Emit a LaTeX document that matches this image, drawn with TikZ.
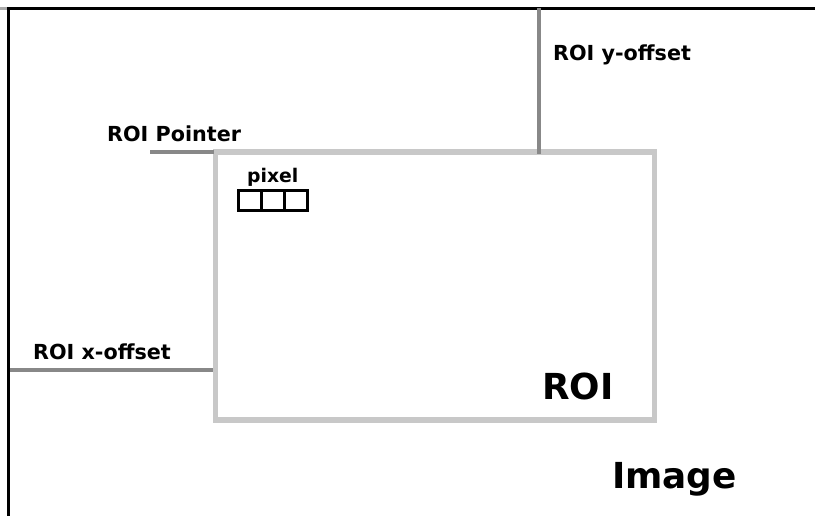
\documentclass[tikz,border=0pt]{standalone}
\usepackage{fontspec}
\setmainfont{DejaVu Sans}
\begin{document}
\begin{tikzpicture}[x=1pt,y=-1pt,
  lbl/.style={font=\bfseries\fontsize{20.7}{22}\selectfont, anchor=base west, inner sep=0pt},
  big/.style={font=\bfseries\fontsize{35.8}{38}\selectfont, anchor=base west, inner sep=0pt},
  frameline/.style={line width=3.3pt, black},
  offline/.style={line width=4pt, color={rgb,255:red,136;green,136;blue,136}},
  roibox/.style={draw={rgb,255:red,200;green,200;blue,200}, line width=5.5pt, minimum width=439pt, minimum height=268pt, inner sep=0pt},
  cell/.style={draw=black, line width=3pt, minimum width=23pt, minimum height=20pt, inner sep=0pt}]
\useasboundingbox (0,0) rectangle (815,516);
\fill[white] (0,0) rectangle (815,516);
% image frame
\coordinate (tl) at (8.7,8.3);
\coordinate (tr) at (815,8.3);
\coordinate (bl) at (8.7,516);
\coordinate (g0) at (0,8.3);
\draw[line width=3.3pt, color={rgb,255:red,170;green,170;blue,170}] (g0) -- (tl);
\draw[frameline] (tr) -- (tl) -- (bl);
% ROI box
\node[roibox] (roi) at (435,286) {};
% offset lines
\coordinate (ytop) at (539,8.3);
\coordinate (ybot) at (539,154.5);
\draw[offline] (ytop) -- (ybot);
\coordinate (xl) at (10.3,370);
\coordinate (xr) at (roi.west |- xl);
\draw[offline] (xl) -- (xr);
\coordinate (pl) at (150,152.5);
\coordinate (pr) at (214,152.5);
\draw[offline] (pl) -- (pr);
% labels
\node[lbl] (ylab) at (553,61) {ROI y-offset};
\node[lbl] (plab) at (107,142) {ROI Pointer};
\node[lbl] (xlab) at (33,359) {ROI x-offset};
\node[font=\bfseries\fontsize{18.8}{20}\selectfont, anchor=base west, inner sep=0pt] (pix) at (247,183) {pixel};
\node[big] (roilab) at (542,399) {ROI};
\node[big] (imglab) at (612,488) {Image};
% pixel cells
\node[cell] (c1) at (249.5,201) {};
\node[cell] (c2) at (272.5,201) {};
\node[cell] (c3) at (295.5,201) {};
\end{tikzpicture}
\end{document}
